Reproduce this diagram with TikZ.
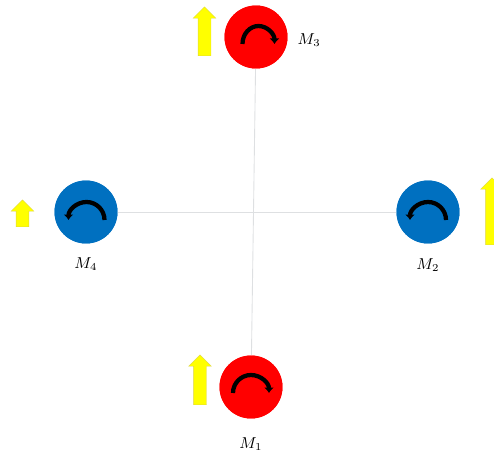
\documentclass[tikz,border=0pt]{standalone}
\usetikzlibrary{shapes.arrows, arrows.meta, positioning}
\definecolor{motorred}{RGB}{255,0,0}
\definecolor{motorblue}{RGB}{0,112,192}
\definecolor{thrustyellow}{RGB}{255,255,0}
\definecolor{armgray}{RGB}{222,224,226}

\begin{document}
\begin{tikzpicture}[
    x=0.02cm, y=-0.02cm,
    redmotor/.style={circle, fill=motorred, minimum size=1.26cm, inner sep=0},
    bluemotor/.style={circle, fill=motorblue, minimum size=1.26cm, inner sep=0},
    thrust/.style={single arrow, rotate=90, draw=yellow!70!gray, line width=0.2pt, fill=thrustyellow, inner sep=0, inner ysep=0.125cm, single arrow head extend=0.1cm, single arrow head indent=0cm},
    arm/.style={armgray, line width=0.5pt},
    spincw/.style={-{Latex[length=1.1mm,width=2mm]}, line width=0.085cm, black},
    motorlabel/.style={inner sep=0, font=\small}
]
\useasboundingbox (0,0) rectangle (494,453);

% Motors
\node[redmotor] (m3) at (256,37) {};
\node[bluemotor] (m4) at (86,212) {};
\node[bluemotor] (m2) at (428,212) {};
\node[redmotor] (m1) at (251,387) {};

% Arms
\draw[arm] (m3) -- (m1);
\draw[arm] (m4) -- (m2);

% Motors again, over the arms
\node[redmotor] at (m3) {};
\node[bluemotor] at (m4) {};
\node[bluemotor] at (m2) {};
\node[redmotor] at (m1) {};

% Spin directions
\draw[spincw] ([shift={(-0.27cm,-0.14cm)}]m3.center) arc[start angle=180, end angle=0, x radius=0.32cm, y radius=0.36cm];
\draw[spincw] ([shift={(0.37cm,-0.16cm)}]m4.center) arc[start angle=0, end angle=180, x radius=0.36cm, y radius=0.36cm];
\draw[spincw] ([shift={(0.36cm,-0.16cm)}]m2.center) arc[start angle=0, end angle=180, x radius=0.36cm, y radius=0.36cm];
\draw[spincw] ([shift={(-0.36cm,-0.12cm)}]m1.center) arc[start angle=180, end angle=0, x radius=0.36cm, y radius=0.36cm];

% Thrust arrows
\node[thrust, minimum height=0.98cm] (t3) at (204.5,34.5) {};
\node[thrust, minimum height=0.54cm] (t4) at (22.5,216.5) {};
\node[thrust, minimum height=1.34cm] (t2) at (492,214.5) {};
\node[thrust, minimum height=1.00cm] (t1) at (200,383) {};

% Labels
\node[motorlabel, right=0.19cm of m3, yshift=-0.06cm] (l3) {$M_3$};
\node[motorlabel, below=0.27cm of m4] (l4) {$M_4$};
\node[motorlabel, below=0.29cm of m2] (l2) {$M_2$};
\node[motorlabel, below=0.37cm of m1] (l1) {$M_1$};

\end{tikzpicture}
\end{document}
